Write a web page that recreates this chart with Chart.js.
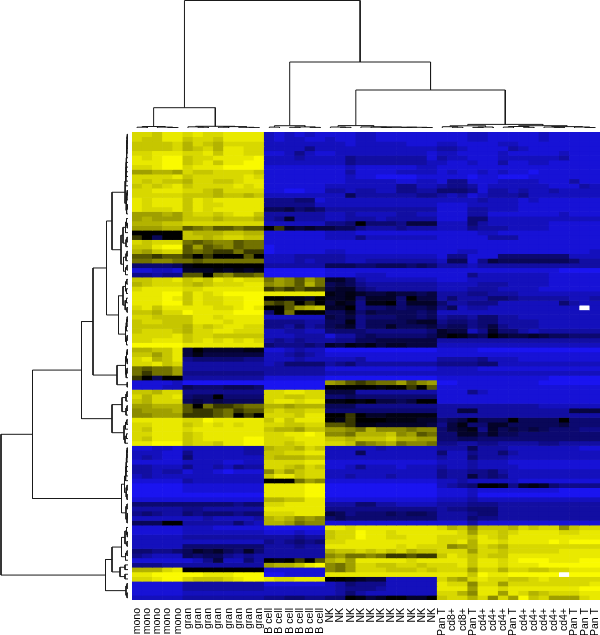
<!DOCTYPE html>
<html>
<head>
<meta charset="utf-8">
<script src="https://cdn.jsdelivr.net/npm/chart.js@4"></script>
<style>
html, body { margin: 0; background: #fff; }
canvas { position: absolute; }
#heat-chart { left: 0; top: 0; }
#top-tree { left: 132px; top: 0; }
#left-tree { left: 0; top: 132px; }
</style>
</head>
<body>
<canvas id="heat-chart" width="600" height="635"></canvas>
<canvas id="top-tree" width="468" height="128"></canvas>
<canvas id="left-tree" width="128" height="468"></canvas>
<script>
const columnLabels = [
    'mono', 'mono', 'mono', 'mono', 'mono',
    'gran', 'gran', 'gran', 'gran', 'gran', 'gran', 'gran', 'gran',
    'B cell', 'B cell', 'B cell', 'B cell', 'B cell', 'B cell',
    'NK', 'NK', 'NK', 'NK', 'NK', 'NK', 'NK', 'NK', 'NK', 'NK', 'NK',
    'Pan T', 'cd8+', 'cd8+', 'Pan T', 'cd4+', 'cd4+', 'cd4+', 'Pan T',
    'cd4+', 'cd4+', 'cd4+', 'cd4+', 'cd4+', 'Pan T', 'Pan T', 'Pan T'
];

// one char per cell, base 36: 0 = full blue, a = black, k = full yellow, . = missing
// blocks: mono, gran, B cell, NK, T
const cellRows = [
    'iihjj ijiijjjj 212121 11122111111 1112211111211111',
    'ihhjj hiihjjjj 212211 21122111111 1112211111211111',
    'hhhhi gihgiiii 222222 22122222111 2211112211111111',
    'hhhhi ghigjjii 222242 22222222222 3321111321111111',
    'iijjj iijhjjii 112421 12222222221 2211112111112111',
    'jijkk hiijjjjk 222322 22433333331 3221112222223111',
    'jjjkk hijhjjkk 222222 22433333332 2112113112211111',
    'iijkk ijjjkkkk 111111 11211111122 1111111111111111',
    'ffggf ihhiiiih 111111 11311112222 1211212110111111',
    'iiiij hiiiiiji 111111 11211000011 1110110001111111',
    'ihihh giihhijj 111111 11222221122 1441112222111311',
    'hihij hiiiijij 111111 22222224422 3443122222211132',
    'iijjj iihgiiii 110011 33233224433 5554133232232222',
    'iiiii hhhghhgh 222222 22633333344 3231233342222222',
    'jijjj hjijjjjj 444551 22222222222 2222322212111111',
    'jijjj hjiijjjj 444442 22222222222 1112222211111111',
    'jiiij hjijjjjj 667565 33333333333 1113322211111111',
    'fffgf hiihijjh 333333 22322223322 1113311111112111',
    'fgfff hhhghhhg 348333 22333233333 1115522222222222',
    'ggghh iiiiiiii 222222 445a5554777 2225322222211111',
    'fffgg cdeccdcc ab8787 76643334333 2224333222211111',
    'aaaaa hggghhgg 111111 22211111111 1111221111111111',
    'ba6aa hhghiihh 111111 22242222222 1111133311111111',
    'ihiii dcdeecdd 111111 11111111111 1111111111111111',
    'hhjkk cfcdecdd 011111 11111111111 1111111111111111',
    'gfhii cdcbbdbb 011111 22111111111 1122111111111112',
    'ccbcc babaaaca 222333 33222222222 1441115555555222',
    'ddeed dcdddddd 222323 33223333333 2661476666666533',
    '55556 9aaaaaaa 333333 66655666565 3332333333333333',
    '11221 88898989 000000 11111111111 1111111111110000',
    '44344 ccadeccd 000000 11122211111 1114222222211111',
    'hhiij hihjijii dfecfd 88632222222 1112222222211111',
    'ghiii hghiiijj efecgd 67643333333 2222333222211111',
    'ijjjj iijjjjjj bcbcbb 78854333333 2223332222111111',
    'jjjkk hjijkkkk jjjjjj 98987787767 3334433322222222',
    'jjjkj hjiijjkk aa998a 88958885a77 3533355433333223',
    'jjjkk hjiijjkk cbcaba 798499a5888 5334442222225322',
    'ijhjj jjjiijkj aacfgh 88a45565667 46233222222222.2',
    'hhgii kjjjjkkk 5adaaa 66857666656 2222222222222222',
    'iihhh hjjijjjj 222222 76745556656 3443553322222222',
    'hiihh hjjjijjj 444433 66946666788 4554553333222222',
    'hhhhh gihijjii 443534 67846686667 5664574333222222',
    'hiiih giijjiii 223322 55554444445 8772485532333333',
    'iiiij hiihhhhh 222333 13356555556 8a976a8778766555',
    'iijjj hijijiji 343433 34466777777 3333333333333333',
    'kkkkk jjjjjjjj 544454 87989788777 2222222222222222',
    'gghhj 7a888899 112322 00000000000 1111000000000000',
    'hhfhj 79777777 223432 11111111111 1111111111111111',
    'ijghj 45555544 222322 22231111111 3333422211111111',
    'iijhi 33333333 235555 34533333333 4444552222222222',
    'dcddf 33333333 333333 11111111111 2222111111111111',
    'dbddf 44444444 333333 22222222222 2222222222222222',
    'ba6aa 33333333 111111 00000000000 1111111111100000',
    '11112 00000000 000000 fecbcddfcef 0011111111000000',
    '11122 65556665 000000 aaaaa9aabac 1111111111111111',
    'hhgii 44444444 iijjii 77733333333 1114211111111111',
    'igiij 566a5555 iihhii 55655555555 1111111111111111',
    'hgiii 67676666 ijjijj 99a9a7767aa 1111111111111111',
    'ffggg cadbbcdd ggfggg 66644444444 3333333333222222',
    'efffg cbbcdbcc hihhii 55555555555 3377333333333777',
    'eefff bbbcdaba iiihjj aaba8899999 3333333333333333',
    'jjjjj iikjjjjj hjhjjj a9baaa99988 567a666a6666a555',
    'iijjj hijijijj iihhii ccb99888887 4795588666667555',
    'ihjjj ijjjjjjj hggfhh ffedgeeedee 5789486767655544',
    'iijjj hijjjjjj iijjkj eedggghefcd 5588686655555555',
    'ihjjj hijjjjkk iiijjj hhghhhiggff 5566555555555555',
    'jjkkk hiihjjkk iihijj iihdefgdeed 4433443333443333',
    '11221 22222233 ghhgih 22222322222 3336333222222211',
    '22211 42222233 hhiijj 22262222222 5224335322222222',
    '23211 52222222 hggghh 22222222222 3225333222222222',
    '11111 22221122 iiiijj 11111111111 2223222111111111',
    '33222 42232433 iihgih 11242221222 3223222211111111',
    '33233 12210111 ehfhii 22222222222 4334453222222222',
    '23222 22222222 hjjhii 22322232222 4337454222222222',
    '11111 32222222 aaadfe 11111111111 2232222211111111',
    '00000 11111111 jjjjkk 00000000000 2345aa9489854444',
    '00000 11111111 jjjjkk 00000000000 1112111111110000',
    '00000 00000000 jjjjkk 00000000000 1112000000000000',
    '11111 11111111 gghhjj 11111111111 2223222222222222',
    '55555 55555455 iijjjj 33355332222 3334443333333333',
    '33333 44333333 jjjjjj 44444444444 3445553333333333',
    '45433 54555455 iiijjj 76455565665 3334553333333333',
    '22222 22322223 ghgefe 56555555555 3335443333333333',
    '666aa 33333532 ggfdee 11111111111 1113111111111111',
    '11111 22211111 000000 jjijjjjjjjj ighehhhgihiiehii',
    '11111 22222222 111211 hiikjjijjjj jjifiihijjjjiijj',
    '22222 33333333 333433 hiikjjiijjj iiihjihjjjjjjjjj',
    '22222 22222222 434545 iijjjjjjjjj iijgjjijjjjkjkkk',
    '22222 55555555 333433 jjjjjjjijii iefgihgiiiiiiiii',
    '55445 68786585 333333 ghhihihighh iiifiihiiiiijjjj',
    '43222 65664343 333333 efddedbbcbb hjihihhjjjjjjjjj',
    '11111 12472253 a9abac ghfjjjjjijj jjjhjjijkkkjjjkk',
    '44433 33333333 fgghjk edfiihhiihi iijhjjijjjkkkkkk',
    'gggij aaaaaaaa 111111 edfiiihhhih iiifiigiihhiijjj',
    'jjkkk kkjjjkkk 001111 jjjjjjjjjjj jjjhkjjkkkkk.kkk',
    'iijkk ihhhijkk jiijjj aa987722222 igfijiihhijiiiii',
    '11111 33333333 111111 23544422222 jiieiifiiiiiiiij',
    '11111 33333333 222222 23444322222 jjjfjjijjjjjjjkk',
    '11111 22222222 222222 23532222222 iigejjfjighiiijj',
    '22222 33333333 445544 55a978aa88a hiigieifkhifffij'
];

// dendrograms: [height, left child, right child], 0 = a leaf, leaves come in plotting order
const monoTree = [1.5, [0.8, 0, 0], [0.9, 0, [0.5, 0, 0]]];
const granTree = [1.7, [1.2, 0, [0.8, 0, 0]], [1.4, [0.8, 0, 0], [0.7, 0, [0.4, 0, 0]]]];
const bcellTree = [2.3, [0.9, 0, 0], [1.1, [0.7, 0, 0], [0.6, 0, 0]]];
const nkTree = [2.4, [1, 0, [0.7, 0, 0]], [1.1, 0, [1, 0, [0.8, [0.5, 0, 0], [0.7, [0.4, 0, 0], [0.5, 0, 0]]]]]];
const tcellTree = [3.6,
    [2.2, [1.3, 0, [0.8, 0, 0]], [1, [0.6, 0, 0], 0]],
    [2.3, [1.5, [0.9, 0, 0], [0.7, 0, 0]], [1.4, [1, 0, [0.6, 0, 0]], [1, 0, [0.5, 0, 0]]]]
];
const columnTree = [127.5, [20.3, monoTree, granTree], [66, bcellTree, [38, nkTree, tcellTree]]];

const rowsTop = [3,
    [2.4, [2.2, [2, [1.8, [1.7, [1.5, [1.4, [1.2, [1.1, [0.9, [0.7, 0, 0], 0], 0], 0], 0], 0], 0], 0], 0], 0], 0],
    [2, [1.2, [0.8, 0, 0], 0], [1.4, [0.7, 0, 0], 0]]
];
const rowsUpperDark = [7,
    [5, [2.5, [1.5, 0, [0.8, 0, 0]], 0], [2, [1, 0, 0], 0]],
    [4.5, [2, [1, 0, 0], 0], [2.5, [1, 0, 0], 0]]
];
const rowsBcellLow = [9.5,
    [5, [2.5, [1.2, 0, 0], [1.5, 0, 0]], [2.8, [1.5, 0, 0], [1, 0, 0]]],
    [2.5, [1.8, [1.2, [0.8, 0, 0], 0], 0], [1.5, [0.9, 0, 0], 0]]
];
const rowsMyeloid = [11,
    [2.5, [1.5, [0.8, 0, 0], [0.8, 0, 0]], [1.8, [1, 0, 0], 0]],
    [0.8, 0, 0]
];
const rowsBcellHigh = [16,
    [6, [2, [1, 0, 0], 0], [2, [1, 0, 0], 0]],
    [4, [2.5, [1.2, 0, 0], 0], [3, [1.5, 0, 0], 0]]
];
const rowsBcellOnly = [6.5,
    [3.5, [2.4, [2.1, [1.8, [1.6, [1.3, [1.1, [0.8, 0, 0], 0], 0], 0], 0], 0], 0], [1.8, [1, 0, 0], [1, 0, 0]]],
    [2, [1, 0, 0], [1, [0.5, 0, 0], 0]]
];
const rowsLymph = [22.5,
    [16, [6.5, [3, [1.5, 0, [0.7, 0, 0]], [1, 0, 0]], [2.5, [1, 0, 0], 0]], [8, [3, 0, 0], [3, 0, 0]]],
    [2, [1, 0, 0], [1, 0, 0]]
];
const rowTree = [127,
    [95.5,
        [46.5,
            [35, [21.5, [16, rowsTop, rowsUpperDark], rowsBcellLow], rowsMyeloid],
            rowsBcellHigh
        ],
        rowsBcellOnly
    ],
    rowsLymph
];

function cellColor(ch) {
    const v = parseInt(ch, 36);
    if (isNaN(v)) return '#ffffff';
    const t = (v - 10) / 10;
    if (t < 0) {
        const s = Math.pow(-t, 1.1);
        return 'rgb(' + Math.round(s * 26) + ',' + Math.round(s * 20) + ',' + Math.round(s * 240) + ')';
    }
    const y = Math.round(Math.pow(t, 0.65) * 250);
    return 'rgb(' + y + ',' + y + ',0)';
}

const heatDatasets = cellRows.map((row) => {
    const cells = row.replace(/ /g, '').split('');
    return {
        data: cells.map(() => 1),
        backgroundColor: cells.map(cellColor),
        borderWidth: 0,
        barPercentage: 1,
        categoryPercentage: 1
    };
});

new Chart(document.getElementById('heat-chart'), {
    type: 'bar',
    data: { labels: columnLabels, datasets: heatDatasets },
    options: {
        responsive: false,
        animation: false,
        layout: { padding: { left: 132, top: 132, right: 0, bottom: 0 } },
        plugins: { legend: { display: false }, tooltip: { enabled: false } },
        scales: {
            x: {
                stacked: true,
                grid: { display: false, drawTicks: false },
                border: { display: false },
                afterFit: (scale) => {
                    scale.height = 35;
                    scale.paddingLeft = 0;
                    scale.paddingRight = 0;
                },
                ticks: {
                    autoSkip: false,
                    minRotation: 90,
                    maxRotation: 90,
                    padding: 8,
                    color: '#000',
                    font: { family: 'Liberation Sans', size: 10.5 }
                }
            },
            y: { stacked: true, display: false, reverse: true, min: 0, max: cellRows.length }
        }
    }
});

// flatten a tree into one polyline, NaN points break it between merges
function treeSegments(tree) {
    const segments = [];
    let nextLeaf = 0;
    function walk(node) {
        if (node === 0) return { pos: nextLeaf++ + 0.5, height: 0 };
        const a = walk(node[1]);
        const b = walk(node[2]);
        segments.push([a.pos, a.height], [a.pos, node[0]], [b.pos, node[0]], [b.pos, b.height], [NaN, NaN]);
        return { pos: (a.pos + b.pos) / 2, height: node[0] };
    }
    walk(tree);
    return segments;
}

const treeStyle = { showLine: true, pointRadius: 0, borderColor: '#1a1a1a', borderWidth: 1, spanGaps: false, clip: false };
const treeOptions = (scales) => ({
    responsive: false,
    animation: false,
    plugins: { legend: { display: false }, tooltip: { enabled: false } },
    scales: scales
});

new Chart(document.getElementById('top-tree'), {
    type: 'scatter',
    data: { datasets: [Object.assign({ data: treeSegments(columnTree).map((p) => ({ x: p[0], y: p[1] })) }, treeStyle)] },
    options: treeOptions({
        x: { type: 'linear', display: false, min: 0, max: columnLabels.length },
        y: { type: 'linear', display: false, min: 0, max: 128 }
    })
});

new Chart(document.getElementById('left-tree'), {
    type: 'scatter',
    data: { datasets: [Object.assign({ data: treeSegments(rowTree).map((p) => ({ x: p[1], y: p[0] })) }, treeStyle)] },
    options: treeOptions({
        x: { type: 'linear', display: false, reverse: true, min: 0, max: 128 },
        y: { type: 'linear', display: false, reverse: true, min: 0, max: cellRows.length }
    })
});
</script>
</body>
</html>
